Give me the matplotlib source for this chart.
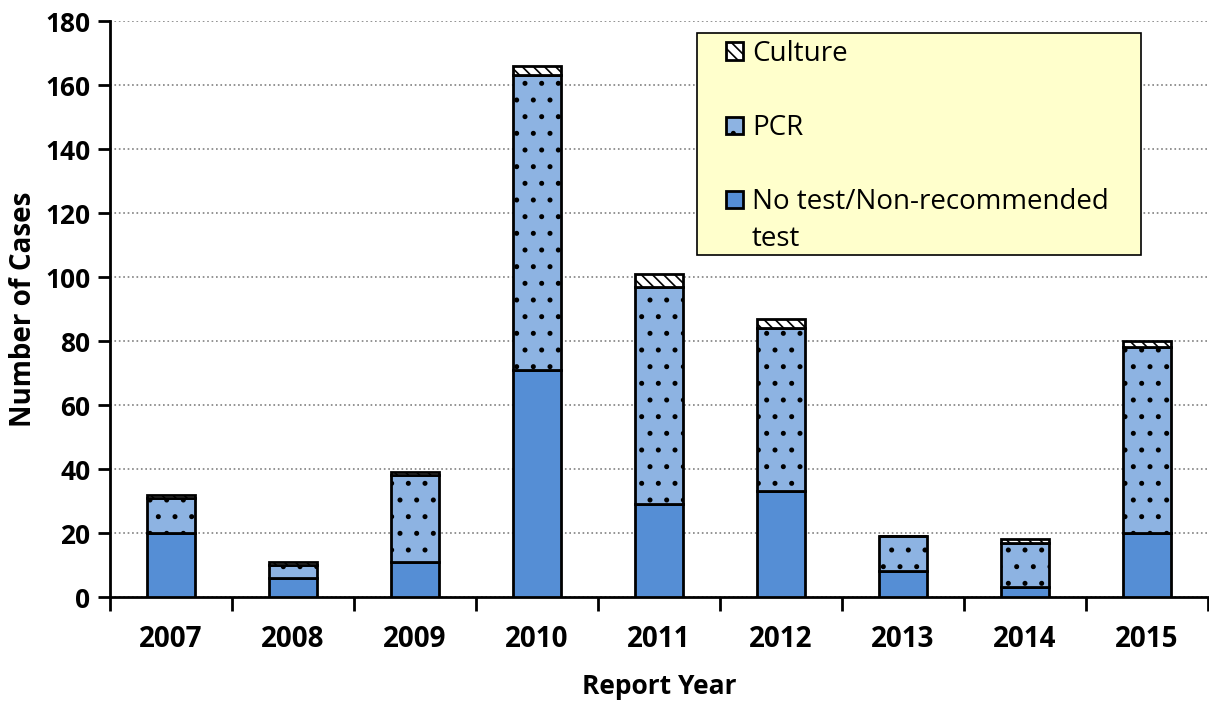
import matplotlib.pyplot as plt
from matplotlib.patches import Rectangle
import numpy as np

# Datos
years = ["2007", "2008", "2009", "2010", "2011", "2012", "2013", "2014", "2015"]
no_test = [20, 6, 11, 71, 29, 33, 8, 3, 20]
pcr = [11, 4, 27, 92, 68, 51, 11, 14, 58]
culture = [1, 1, 1, 3, 4, 3, 0, 1, 2]

plt.rcParams["font.family"] = ["Open Sans", "DejaVu Sans"]
plt.rcParams["hatch.linewidth"] = 1.2

fig = plt.figure(figsize=(12.09, 7.01), dpi=100)
ax = fig.add_axes([110 / 1209, 104 / 701, 1098 / 1209, 576 / 701])

x = np.arange(len(years))
w = 0.4
no_test = np.array(no_test)
pcr = np.array(pcr)
culture = np.array(culture)

b1 = ax.bar(x, no_test, w, color="#558ED5", edgecolor="black", linewidth=2,
            label="No test/Non-recommended", zorder=3)
b2 = ax.bar(x, pcr, w, bottom=no_test, color="#8DB3E2", edgecolor="black",
            linewidth=2, hatch=".", label="PCR", zorder=3)
b3 = ax.bar(x, culture, w, bottom=no_test + pcr, color="white", edgecolor="black",
            linewidth=2, hatch="\\\\\\", label="Culture", zorder=3)

ax.set_xlim(-0.5, len(years) - 0.5)
ax.set_ylim(0, 180)
ax.set_yticks(np.arange(0, 181, 20))
ax.set_xticks(x)
ax.set_xticklabels(years)
ax.set_xticks(np.arange(-0.5, len(years), 1), minor=True)
ax.tick_params(axis="x", which="major", length=0, pad=20, labelsize=20)
ax.tick_params(axis="x", which="minor", length=10, width=2, direction="out")
ax.tick_params(axis="y", length=9, width=2, direction="out", labelsize=19, pad=5)
for lab in ax.get_xticklabels() + ax.get_yticklabels():
    lab.set_fontweight("bold")

ax.grid(axis="y", linestyle=":", color="#808080", linewidth=1.2, zorder=0)
ax.spines["top"].set_visible(False)
ax.spines["right"].set_visible(False)
ax.spines["left"].set_linewidth(2)
ax.spines["bottom"].set_linewidth(2)

ax.set_ylabel("Number of Cases", fontsize=20, fontweight="bold")
ax.yaxis.set_label_coords(-0.066, 0.5)
ax.set_xlabel("Report Year", fontsize=19, fontweight="bold", labelpad=14)

# caja amarilla de la leyenda
box = Rectangle((697 / 1209, 1 - 255 / 701), 444 / 1209, 222 / 701,
                transform=fig.transFigure, facecolor="#FFFFCC", edgecolor="black",
                linewidth=1.2, zorder=5, clip_on=False)
ax.add_patch(box)

leg = ax.legend(handles=[b3, b2, b1], loc="upper left",
                bbox_to_anchor=(726 / 1209, 1 - 40 / 701), bbox_transform=fig.transFigure,
                fontsize=20, labelspacing=1.66, handlelength=0.6, handleheight=0.6,
                handletextpad=0.35, borderpad=0, borderaxespad=0, frameon=False)
leg.set_zorder(6)
for h in leg.legend_handles:
    h.set_linewidth(2)
# segunda linea de la ultima etiqueta
ax.text(752 / 1209, 1 - 239 / 701, "test", transform=fig.transFigure, fontsize=20,
        va="center", ha="left", zorder=7)

fig.savefig("out.png", dpi=100)
